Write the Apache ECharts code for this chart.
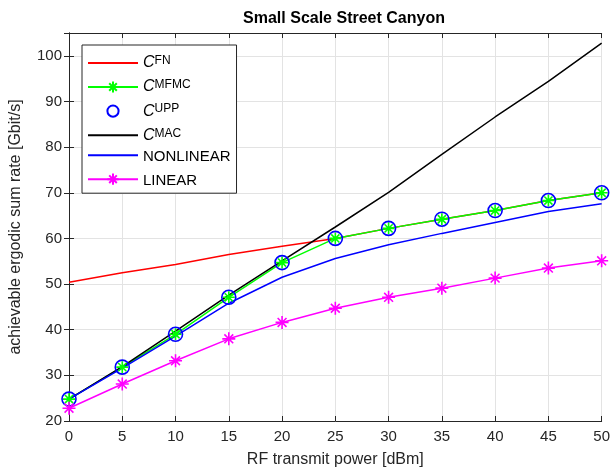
<!DOCTYPE html>
<html>
<head>
<meta charset="utf-8">
<script src="https://cdn.jsdelivr.net/npm/echarts@6/dist/echarts.min.js"></script>
<style>
  html, body { margin: 0; padding: 0; background: #fff; }
  #chart { width: 613px; height: 474px; }
</style>
</head>
<body>
<div id="chart"></div>
<script>
// transmit power in dBm
const power = [0, 5, 10, 15, 20, 25, 30, 35, 40, 45, 50];
// sum rates, Gbit/s
const cFN = [50.4, 52.5, 54.3, 56.5, 58.3, 60.0, 62.2, 64.2, 66.1, 68.3, 70.0];
const cMFMC = [24.8, 31.8, 39.0, 47.1, 54.7, 60.0, 62.2, 64.2, 66.1, 68.3, 70.0];
const cUPP = [24.8, 31.8, 39.0, 47.1, 54.7, 60.0, 62.2, 64.2, 66.1, 68.3, 70.0];
const cMAC = [24.8, 31.9, 39.7, 47.6, 55.1, 62.5, 70.1, 78.4, 86.6, 94.4, 102.8];
const nonlinear = [24.8, 31.6, 38.6, 45.8, 51.5, 55.6, 58.6, 61.1, 63.5, 65.9, 67.6];
const linear = [22.8, 28.1, 33.2, 38.0, 41.6, 44.7, 47.1, 49.1, 51.3, 53.5, 55.1];
const xTicks = { min: 0, max: 50, interval: 5 };
const yTicks = { min: 20, max: 105, interval: 10 };

const pairs = (ys) => power.map((x, i) => [x, ys[i]]);
const star = 'path://M5,0L5,10M0,5L10,5M1.6,1.6L8.4,8.4M1.6,8.4L8.4,1.6';
const axisColor = '#262626';
const font = 'Liberation Sans, Arial, sans-serif';

const chart = echarts.init(document.getElementById('chart'));

function lineSeries(name, ys, color, extra) {
  return Object.assign({
    name: name,
    type: 'line',
    data: pairs(ys),
    symbol: 'none',
    lineStyle: { color: color, width: 1.5 },
    itemStyle: { color: color },
    emphasis: { disabled: true }
  }, extra || {});
}

// legend entries for plain lines: hide the marker
const noMark = (name) => ({ name: name, itemStyle: { opacity: 0 } });

const option = {
  animation: false,
  backgroundColor: '#fff',
  title: {
    text: 'Small Scale Street Canyon',
    left: 339, top: 6, textAlign: 'center',
    textStyle: { fontFamily: font, fontSize: 16, fontWeight: 'bold', color: '#000' }
  },
  grid: { left: 68, right: 11, top: 33, bottom: 53 },
  legend: {
    orient: 'vertical',
    left: 82, top: 45,
    backgroundColor: '#fff',
    borderColor: axisColor,
    borderWidth: 1,
    borderRadius: 0,
    padding: [2, 6, 2, 5],
    itemWidth: 50, itemHeight: 14, itemGap: 0,
    selectedMode: false,
    formatter: function (name) {
      if (name === 'NONLINEAR' || name === 'LINEAR') return '{n|' + name + '}';
      return '{c|C}{s|' + name + '}';
    },
    textStyle: {
      fontFamily: font, color: '#000',
      rich: {
        c: { fontFamily: font, fontSize: 16, fontStyle: 'italic', color: '#000', lineHeight: 16, padding: [8, 0, 0, 0], verticalAlign: 'bottom' },
        s: { fontFamily: font, fontSize: 12, color: '#000', lineHeight: 12, verticalAlign: 'top' },
        n: { fontFamily: font, fontSize: 15, color: '#000', lineHeight: 15, padding: [6, 0, 3, 0] }
      }
    },
    data: [noMark('FN'), 'MFMC', 'UPP', noMark('MAC'), noMark('NONLINEAR'), 'LINEAR']
  },
  xAxis: [{
    type: 'value', min: xTicks.min, max: xTicks.max, interval: xTicks.interval,
    name: 'RF transmit power [dBm]', nameLocation: 'middle', nameGap: 31,
    nameTextStyle: { fontFamily: font, fontSize: 16, color: axisColor },
    axisLine: { lineStyle: { color: axisColor, width: 1 } },
    axisTick: { inside: true, length: 5, lineStyle: { color: axisColor } },
    axisLabel: { fontFamily: font, fontSize: 15, color: axisColor, margin: 8 },
    splitLine: { show: true, lineStyle: { color: '#e3e3e3', width: 1 } }
  }, {
    type: 'value', position: 'top', min: xTicks.min, max: xTicks.max, interval: xTicks.interval,
    axisLine: { show: true, lineStyle: { color: axisColor, width: 1 } },
    axisTick: { show: true, inside: true, length: 5, lineStyle: { color: axisColor } },
    axisLabel: { show: false }, splitLine: { show: false }
  }],
  yAxis: [{
    type: 'value', min: yTicks.min, max: yTicks.max, interval: yTicks.interval,
    name: 'achievable ergodic sum rate [Gbit/s]', nameLocation: 'middle', nameGap: 45,
    nameTextStyle: { fontFamily: font, fontSize: 16, color: axisColor },
    axisLine: { show: true, lineStyle: { color: axisColor, width: 1 } },
    axisTick: { show: true, inside: true, length: 5, lineStyle: { color: axisColor } },
    axisLabel: { fontFamily: font, fontSize: 15, color: axisColor, margin: 7, showMaxLabel: false },
    splitLine: { show: true, lineStyle: { color: '#e3e3e3', width: 1 } }
  }, {
    type: 'value', position: 'right', min: yTicks.min, max: yTicks.max, interval: yTicks.interval,
    axisLine: { show: true, lineStyle: { color: axisColor, width: 1 } },
    axisTick: { show: true, inside: true, length: 5, lineStyle: { color: axisColor } },
    axisLabel: { show: false }, splitLine: { show: false }
  }],
  series: [
    lineSeries('FN', cFN, '#ff0000'),
    lineSeries('MFMC', cMFMC, '#00ff00', {
      symbol: star, symbolSize: 12,
      itemStyle: { color: 'none', borderColor: '#00ff00', borderWidth: 1.6 }
    }),
    lineSeries('UPP', cUPP, '#0000ff', {
      symbol: 'circle', symbolSize: 14,
      lineStyle: { width: 0, opacity: 0 },
      itemStyle: { color: 'none', borderColor: '#0000ff', borderWidth: 1.6 }
    }),
    lineSeries('MAC', cMAC, '#000000'),
    lineSeries('NONLINEAR', nonlinear, '#0000ff'),
    lineSeries('LINEAR', linear, '#ff00ff', {
      symbol: star, symbolSize: 13,
      itemStyle: { color: 'none', borderColor: '#ff00ff', borderWidth: 1.6 }
    })
  ]
};

chart.setOption(option);
</script>
</body>
</html>
